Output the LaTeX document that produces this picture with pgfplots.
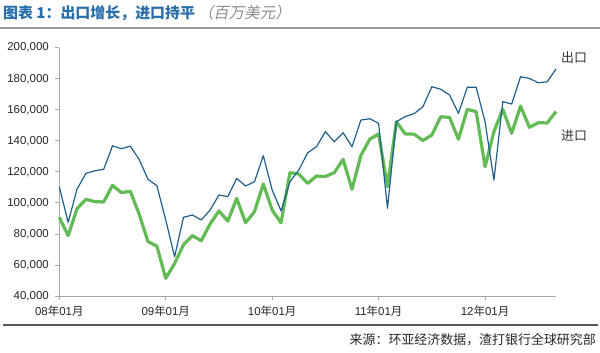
\documentclass[border=0pt]{standalone}
\usepackage{pgfplots}
\usepackage{pgfplotstable}
\pgfplotsset{compat=1.18}
\usepackage{fontspec}
\setmainfont{Liberation Sans}
\newfontfamily\cjk{Noto Sans CJK SC}
\newfontfamily\cjkit[FakeSlant=0.2]{Noto Sans CJK SC}
\definecolor{expblue}{RGB}{31,95,140}
\definecolor{impgreen}{RGB}{98,187,84}
\definecolor{titleblue}{RGB}{40,110,170}
\definecolor{axisgray}{RGB}{170,170,170}
\newcommand\ym[2]{#1{\cjk 年}#2{\cjk 月}}
\pgfplotstableread{
m exp imp
0 110400 90700
1 87500 78900
2 108900 96300
3 119000 102300
4 120700 100800
5 121600 100600
6 136800 111300
7 134900 106600
8 136600 107500
9 128000 92800
10 115200 75000
11 111100 72200
12 89000 51400
13 65300 61000
14 90700 73000
15 92200 78900
16 89000 75600
17 95400 86400
18 105100 94800
19 104000 88300
20 115800 102900
21 110900 87200
22 113600 94300
23 130400 112200
24 108300 95400
25 94800 87200
26 113600 119500
27 121200 118600
28 132300 112600
29 136200 117300
30 145900 117000
31 139400 119500
32 145200 128000
33 136200 108800
34 153400 130500
35 154200 141000
36 151300 144400
37 96500 110400
38 152300 152300
39 155600 144400
40 157500 144300
41 162000 140200
42 174900 143700
43 173200 155500
44 169500 155100
45 157700 141000
46 174500 160300
47 174500 158800
48 152300 123300
49 114700 145900
50 165200 160300
51 163700 144800
52 181300 162400
53 180200 148700
54 177400 151700
55 178000 151500
56 186300 158800
}\datatable
\begin{document}
\begin{tikzpicture}[x=1bp,y=1bp]
\useasboundingbox (0,0) rectangle (600,352);
\begin{axis}[
  at={(59.3bp,56bp)}, anchor=origin,
  scale only axis, width=496.7bp, height=248.3bp,
  xmin=0, xmax=56, ymin=40000, ymax=200000,
  ytick={40000,60000,...,200000},
  scaled y ticks=false,
  xtick={0,12,24,36,48},
  xticklabels={\ym{08}{01},\ym{09}{01},\ym{10}{01},\ym{11}{01},\ym{12}{01}},
  axis x line*=bottom, axis y line*=left,
  axis line style={axisgray, line width=0.8bp},
  tick style={axisgray, line width=0.8bp},
  tick align=outside, major tick length=4bp,
  /pgf/number format/.cd, fixed, 1000 sep={,}, assume math mode=true,
  /pgfplots/.cd,
  tick label style={font=\fontsize{11.5}{13}\selectfont, text=black!85},
  yticklabel style={xshift=-3bp},
  xticklabel style={yshift=-2bp},
  clip=false,
]
\addplot[impgreen, line width=3.2bp, line join=round] table[x=m, y=imp] {\datatable};
\addplot[expblue, line width=1.2bp, line join=round] table[x=m, y=exp] {\datatable};
\end{axis}
\node[anchor=center, text=black!80, font=\cjk\fontsize{13}{15}\selectfont] at (574,294) {出口};
\node[anchor=center, text=black!80, font=\cjk\fontsize{13}{15}\selectfont] at (574,216) {进口};
\node[anchor=west, inner sep=0pt] at (3,339) {{\color{titleblue}\cjk\bfseries\fontsize{15}{17}\selectfont 图表 1：出口增长，进口持平}\hspace{3bp}{\color{black!45}\cjkit\fontsize{15.5}{17}\selectfont （百万美元）}};
\draw[black!40, line width=2bp] (0,324) -- (600,324);
\draw[black!65, line width=1.5bp] (3,27) -- (598,27);
\node[anchor=east, inner sep=0pt, text=black!85, font=\cjk\fontsize{13}{15}\selectfont] at (596,12) {来源：环亚经济数据，渣打银行全球研究部};
\end{tikzpicture}
\end{document}
